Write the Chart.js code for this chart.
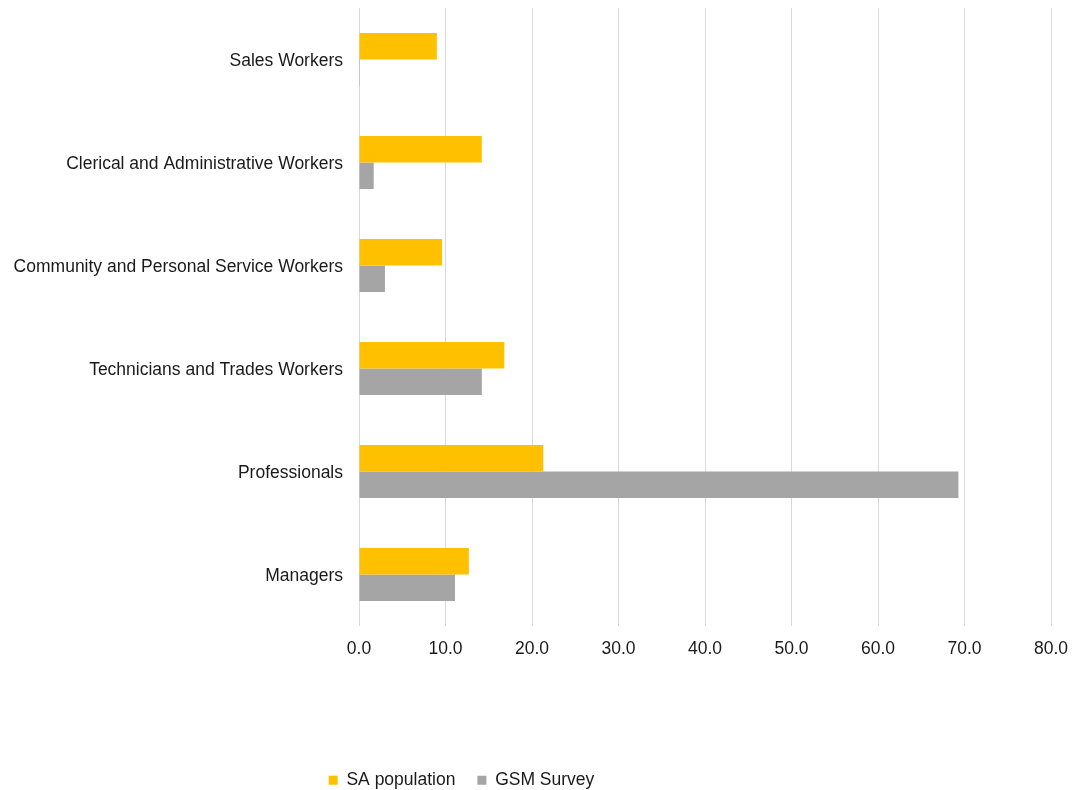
<!DOCTYPE html>
<html>
<head>
<meta charset="utf-8">
<script src="https://cdn.jsdelivr.net/npm/chart.js@4"></script>
<style>
    html, body { margin: 0; padding: 0; background: #fff; }
    #wrap { width: 1077px; height: 790px; }
</style>
</head>
<body>
<div id="wrap"><canvas id="occupationChart" width="1077" height="790"></canvas></div>
<script>
const occupations = [
    'Sales Workers',
    'Clerical and Administrative Workers',
    'Community and Personal Service Workers',
    'Technicians and Trades Workers',
    'Professionals',
    'Managers'
];
const saPopulation = [9.0, 14.2, 9.6, 16.8, 21.3, 12.7];
const gsmSurvey = [0.1, 1.7, 3.0, 14.2, 69.3, 11.1];

const textColor = '#1a1a1a';
const gridColor = '#d9d9d9';
const fontFamily = '"Liberation Sans", Arial, sans-serif';

// nudge the legend so it sits where the report layout puts it
const legendOffset = {
    id: 'legendOffset',
    afterLayout(chart) {
        const lg = chart.legend;
        if (!lg) return;
        const dx = -70, dy = 9;
        lg.left += dx; lg.right += dx;
        lg.top += dy; lg.bottom += dy;
    }
};

const ctx = document.getElementById('occupationChart').getContext('2d');

new Chart(ctx, {
    type: 'bar',
    data: {
        labels: occupations,
        datasets: [
            {
                label: 'SA population',
                data: saPopulation,
                backgroundColor: '#ffc000'
            },
            {
                label: 'GSM Survey',
                data: gsmSurvey,
                backgroundColor: '#a5a5a5'
            }
        ]
    },
    options: {
        indexAxis: 'y',
        responsive: false,
        animation: false,
        categoryPercentage: 0.515,
        barPercentage: 1,
        layout: {
            padding: { top: 8, left: 12, right: 26, bottom: 0 }
        },
        scales: {
            x: {
                min: 0,
                max: 80,
                border: { display: false },
                grid: { color: gridColor, lineWidth: 1, drawTicks: false },
                ticks: {
                    stepSize: 10,
                    padding: 13,
                    color: textColor,
                    font: { family: fontFamily, size: 17.5 },
                    callback: v => Number(v).toFixed(1)
                },
                afterFit: scale => {
                    scale.height = 114.5;
                    scale.paddingLeft = 0;
                    scale.paddingRight = 0;
                }
            },
            y: {
                border: { display: false },
                grid: { display: false, drawTicks: false },
                ticks: {
                    padding: 16,
                    labelOffset: 1.5,
                    color: textColor,
                    font: { family: fontFamily, size: 17.5 }
                },
                afterFit: scale => {
                    scale.width = 347;
                    scale.paddingTop = 0;
                    scale.paddingBottom = 0;
                }
            }
        },
        plugins: {
            legend: {
                position: 'bottom',
                labels: {
                    boxWidth: 9,
                    boxHeight: 9,
                    padding: 22,
                    color: textColor,
                    font: { family: fontFamily, size: 17.5 }
                }
            },
            tooltip: { enabled: false }
        }
    },
    plugins: [legendOffset]
});
</script>
</body>
</html>
